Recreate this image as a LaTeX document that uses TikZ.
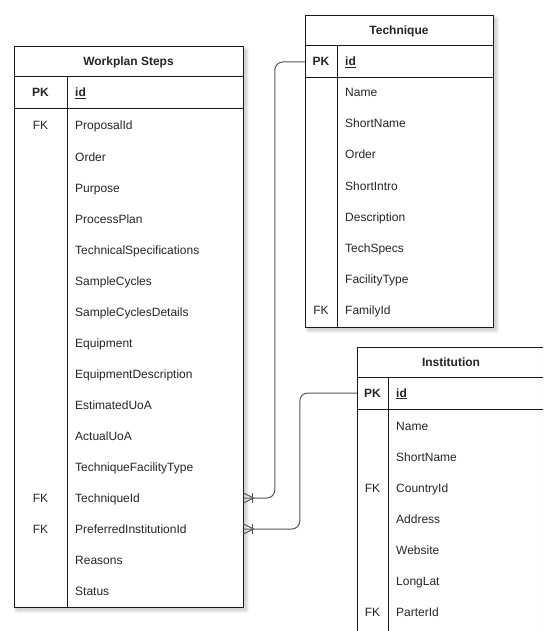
\documentclass[tikz,border=0pt]{standalone}
\usepackage{fontspec}
\setmainfont{Liberation Sans}
\usetikzlibrary{calc}

\definecolor{ink}{HTML}{262626}
\definecolor{edge}{HTML}{1a1a1a}
\definecolor{linkgray}{HTML}{555555}

\tikzset{
  tabframe/.style={draw=edge, line width=1pt},
  tabtitle/.style={font=\bfseries\fontsize{12}{14}\selectfont, text=ink, inner sep=0},
  keycell/.style={font=\fontsize{12}{14}\selectfont, text=ink, inner sep=0,
    minimum width=#1, minimum height=31, text height=10, text depth=2},
  fieldcell/.style={font=\fontsize{12}{14}\selectfont, text=ink, inner sep=0,
    minimum height=31, text width=#1, align=left, anchor=west,
    text height=10, text depth=2},
  pkfont/.style={font=\bfseries\fontsize{12}{14}\selectfont},
  relation/.style={draw=linkgray, line width=1pt, rounded corners=8},
  crowfoot/.style={draw=linkgray, line width=1pt},
}

% soft shadow behind a table: x0, y0, x1, y1
\newcommand\tabshade[4]{%
  \foreach \g in {0,1,2,3}{
    \fill[black, opacity=0.045, rounded corners=\g]
      (#1+3-\g, #2+3-\g) rectangle (#3+3+\g, #4+3+\g);
  }}

\begin{document}
\begin{tikzpicture}[x=1pt, y=-1pt]
\useasboundingbox (0,0) rectangle (543,631);
\clip (0,0) rectangle (543,631);
\fill[white] (0,0) rectangle (543,631);

% ---------- Workplan Steps ----------
\tabshade{14}{47}{243}{607}
\draw[tabframe, fill=white] (14,47) rectangle (243,607);
\draw[tabframe] (14,77) -- (243,77);
\draw[tabframe] (14,109) -- (243,109);
\draw[tabframe] (67,77) -- (67,607);
\node[tabtitle] (ws-title) at (128.5,62) {Workplan Steps};
\node[keycell=53, pkfont] (ws-pkkey) at (40.5,93) {PK};
\node[fieldcell=168, pkfont] (ws-pk) at (75,93) {\underline{id}};
\foreach \t [count=\i] in {ProposalId, Order, Purpose, ProcessPlan,
    TechnicalSpecifications, SampleCycles, SampleCyclesDetails, Equipment,
    EquipmentDescription, EstimatedUoA, ActualUoA, TechniqueFacilityType,
    TechniqueId, PreferredInstitutionId, Reasons, Status}{
  \node[fieldcell=168] (ws-f\i) at (75,95+31*\i) {\t};
}
\foreach \i in {1,13,14}{
  \node[keycell=53] (ws-k\i) at (40.5,95+31*\i) {FK};
}

% ---------- Technique ----------
\tabshade{305}{16}{493}{327}
\draw[tabframe, fill=white] (305,16) rectangle (493,327);
\draw[tabframe] (305,46) -- (493,46);
\draw[tabframe] (305,78) -- (493,78);
\draw[tabframe] (337,46) -- (337,327);
\node[tabtitle] (te-title) at (399,31) {Technique};
\node[keycell=32, pkfont] (te-pkkey) at (321,62) {PK};
\node[fieldcell=148, pkfont] (te-pk) at (345,62) {\underline{id}};
\foreach \t [count=\i] in {Name, ShortName, Order, ShortIntro, Description,
    TechSpecs, FacilityType, FamilyId}{
  \node[fieldcell=148] (te-f\i) at (345,62+31*\i) {\t};
}
\node[keycell=32] (te-k8) at (321,62+31*8) {FK};

% ---------- Institution ----------
\tabshade{357}{347}{545}{660}
\draw[tabframe, fill=white] (357,347) rectangle (545,660);
\draw[tabframe] (357,377) -- (545,377);
\draw[tabframe] (357,409) -- (545,409);
\draw[tabframe] (388,377) -- (388,660);
\node[tabtitle] (in-title) at (451,362) {Institution};
\node[keycell=31, pkfont] (in-pkkey) at (372.5,393) {PK};
\node[fieldcell=149, pkfont] (in-pk) at (396,393) {\underline{id}};
\foreach \t [count=\i] in {Name, ShortName, CountryId, Address, Website,
    LongLat, ParterId}{
  \node[fieldcell=149] (in-f\i) at (396,395+31*\i) {\t};
}
\foreach \i in {3,7}{
  \node[keycell=31] (in-k\i) at (372.5,395+31*\i) {FK};
}

% ---------- relations ----------
\draw[relation] (te-pkkey.west) -- ++(-30,0) |- (ws-f13.east);
\draw[relation] (in-pkkey.west) -- ++(-57,0) |- (ws-f14.east);
\foreach \n in {ws-f13, ws-f14}{
  \draw[crowfoot] ([yshift=5]\n.east) -- ([xshift=10]\n.east) -- ([yshift=-5]\n.east);
  \draw[crowfoot] ([xshift=9,yshift=5]\n.east) -- ([xshift=9,yshift=-5]\n.east);
}
\end{tikzpicture}
\end{document}
